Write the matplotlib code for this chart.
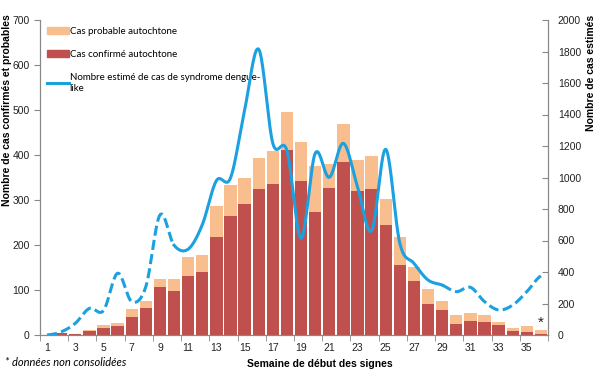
import numpy as np
import matplotlib
matplotlib.use("Agg")
import matplotlib.pyplot as plt
from matplotlib.patches import Patch
from matplotlib.lines import Line2D

weeks = list(range(1, 37))
confirmes = [0, 4, 2, 9, 16, 20, 39, 61, 107, 98, 131, 141, 218, 265, 291, 324, 335, 411,
             343, 273, 327, 384, 321, 325, 244, 156, 121, 70, 56, 24, 32, 30, 22, 9, 7, 2]
probables = [0, 1, 0, 2, 6, 7, 18, 14, 18, 27, 42, 37, 69, 68, 57, 69, 75, 84,
             85, 103, 54, 84, 68, 73, 58, 62, 31, 33, 20, 20, 17, 14, 7, 7, 13, 9]
estimes = [0, 20, 74, 169, 155, 392, 212, 307, 762, 570, 545, 700, 980, 997, 1429, 1814, 1217, 1170,
           614, 1153, 1001, 1217, 942, 662, 1179, 582, 455, 349, 317, 275, 303, 212, 159, 190, 275, 375]
solid_from, solid_to = 10, 29   # weeks drawn with a solid line

c_prob = "#F9BE8E"
c_conf = "#C0504D"
c_line = "#1BA1E0"
c_axis = "#888888"

plt.rcParams['font.family'] = ['Liberation Sans', 'DejaVu Sans']

fig = plt.figure(figsize=(6, 3.75), dpi=100)
ax = fig.add_axes([40/600, 1-335/375, 508/600, 315/375])
ax2 = ax.twinx()

x = np.array(weeks, dtype=float)
conf = np.array(confirmes)
prob = np.array(probables)
ax.bar(x, conf, width=0.88, color=c_conf, linewidth=0, zorder=2)
ax.bar(x, prob, bottom=conf, width=0.88, color=c_prob, linewidth=0, zorder=2)

# smoothed line (Catmull-Rom, like Excel "smoothed line")
def smooth(xs, ys, n=20):
    xs = np.asarray(xs, float); ys = np.asarray(ys, float)
    px = np.concatenate([[2*xs[0]-xs[1]], xs, [2*xs[-1]-xs[-2]]])
    py = np.concatenate([[ys[0]], ys, [ys[-1]]])
    ox, oy = [], []
    for i in range(1, len(px)-2):
        t = np.linspace(0, 1, n, endpoint=False)
        for arr, out in ((px, ox), (py, oy)):
            p0, p1, p2, p3 = arr[i-1], arr[i], arr[i+1], arr[i+2]
            out.extend(0.5*((2*p1) + (-p0+p2)*t + (2*p0-5*p1+4*p2-p3)*t**2 + (-p0+3*p1-3*p2+p3)*t**3))
    ox.append(xs[-1]); oy.append(ys[-1])
    return np.array(ox), np.array(oy)

sx, sy = smooth(x, estimes)
m1 = sx <= solid_from
m2 = (sx >= solid_from) & (sx <= solid_to)
m3 = sx >= solid_to
dash = (0, (3.3, 1.4))
ax2.plot(sx[m1], sy[m1], color=c_line, lw=2.2, ls=dash, zorder=3)
ax2.plot(sx[m2], sy[m2], color=c_line, lw=2.2, zorder=3)
ax2.plot(sx[m3], sy[m3], color=c_line, lw=2.2, ls=dash, zorder=3)

ax.set_xlim(0.5, 36.5)
ax.set_ylim(0, 700)
ax2.set_ylim(0, 2000)

ax.set_xticks(weeks[::2])
ax.set_xticklabels([str(w) for w in weeks[::2]])
ax.set_xticks(np.arange(0.5, 37, 2), minor=True)
ax.tick_params(axis='x', which='major', length=0, labelsize=7.5, pad=6, colors='#222222')
ax.tick_params(axis='x', which='minor', length=4, color=c_axis)
ax.set_yticks(range(0, 701, 100))
ax.tick_params(axis='y', length=4, color=c_axis, labelsize=7.5, colors='#222222')
ax2.set_yticks(range(0, 2001, 200))
ax2.tick_params(axis='y', length=4, color=c_axis, labelsize=7.5, colors='#222222',
                direction='in', pad=7)
for a in (ax, ax2):
    a.spines['top'].set_visible(False)
    for s in ('left', 'right', 'bottom'):
        a.spines[s].set_color(c_axis)
        a.spines[s].set_linewidth(0.8)

fig.text(7/600, 1-110/375, "Nombre de cas confirmés et probables", rotation=90,
         fontsize=7.5, fontweight='bold', ha='center', va='center')
fig.text(591/600, 1-73/375, "Nombre de cas estimés", rotation=90,
         fontsize=7.5, fontweight='bold', ha='center', va='center')
fig.text(320/600, 1-364/375, "Semaine de début des signes", fontsize=7.5,
         fontweight='bold', ha='center', va='center')
fig.text(5/600, 1-362/375, "* données non consolidées", fontsize=8, style='italic',
         family='Lato', ha='left', va='center')
ax.text(36, 11, "*", fontsize=11, ha='center', va='bottom', color='#222222')

handles = [Patch(color=c_prob), Patch(color=c_conf), Line2D([], [], color=c_line, lw=2.2)]
labels = ["Cas probable autochtone", "Cas confirmé autochtone",
          "Nombre estimé de cas de syndrome dengue-\nlike"]
leg = ax.legend(handles, labels, loc='upper left', bbox_to_anchor=(0.0, 1.0), frameon=False,
                prop={'family': 'Lato', 'size': 7}, handlelength=2.3, handleheight=0.8,
                handletextpad=0.05, labelspacing=1.45, borderaxespad=0.3)
leg.set_zorder(5)

fig.savefig("out.png", dpi=100)
